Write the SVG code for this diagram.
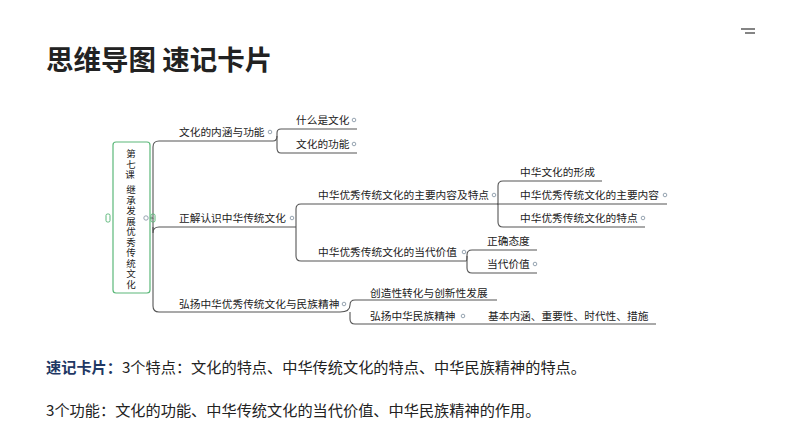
<svg xmlns="http://www.w3.org/2000/svg" width="794" height="447" viewBox="0 0 794 447">
<style>
text{font-family:"Noto Sans CJK SC","Liberation Sans",sans-serif;fill:#222}
.n{font-size:10.7px}
.l{fill:none;stroke:#555;stroke-width:1.1}
.d{fill:#fff;stroke:#8a9aa8;stroke-width:0.9}
</style>
<rect width="794" height="447" fill="#fff"/>
<line x1="741" y1="29" x2="755" y2="29" stroke="#333" stroke-width="1.2"/>
<line x1="745" y1="33" x2="755" y2="33" stroke="#333" stroke-width="1.2"/>
<text x="46" y="70" style="font-size:27.5px;font-weight:bold">思维导图 速记卡片</text>
<g id="connectors">
<path class="l" d="M150,218 H153 V147 Q153,141 159,141 H273"/>
<path class="l" d="M153,218 V233 Q153,227 159,227 H296"/>
<path class="l" d="M153,227 V306 Q153,312 159,312 H340"/>
<path class="l" d="M273,141 Q277,141 277,136 V133 Q277,129 281,129 H357"/>
<path class="l" d="M277,136 V148 Q277,153 281,153 H357"/>
<path class="l" d="M296,227 V209 Q296,204 301,204 H497"/>
<path class="l" d="M296,227 V256 Q296,261 301,261 H466"/>
<path class="l" d="M497,204 H498 V186 Q498,181 503,181 H602"/>
<path class="l" d="M497,204 H667"/>
<path class="l" d="M498,204 V222 Q498,227 503,227 H645"/>
<path class="l" d="M466,261 Q467,261 467,256 V255 Q467,250 472,250 H537"/>
<path class="l" d="M467,256 V268 Q467,273 472,273 H537"/>
<path class="l" d="M340,312 Q350,312 350,305 Q350,300 355,300 H497"/>
<path class="l" d="M350,312 V319 Q350,324 355,324 H656"/>
</g>
<g id="root">
<rect x="113" y="142" width="37" height="151" rx="3" fill="#fff" stroke="#5cb87a" stroke-width="1.2"/>
<rect x="106" y="214" width="4" height="8" rx="1.5" fill="none" stroke="#5cb87a"/>
<rect x="151" y="214" width="4" height="8" rx="1.5" fill="none" stroke="#5cb87a"/>
<circle class="d" cx="146" cy="218" r="2.2"/>
<text text-anchor="middle" style="font-size:9.5px">
<tspan x="131" y="157">第</tspan><tspan x="131" y="167.5">七</tspan><tspan x="131" y="178">课</tspan>
<tspan x="131" y="193">继</tspan><tspan x="131" y="203.5">承</tspan><tspan x="131" y="214">发</tspan><tspan x="131" y="224.5">展</tspan><tspan x="131" y="235">优</tspan><tspan x="131" y="245.5">秀</tspan><tspan x="131" y="256">传</tspan><tspan x="131" y="266.5">统</tspan><tspan x="131" y="277">文</tspan><tspan x="131" y="287.5">化</tspan>
</text>
</g>
<g id="n1"><text class="n" x="179" y="136">文化的内涵与功能</text><circle class="d" cx="270" cy="132" r="1.8"/></g>
<g id="n11"><text class="n" x="296" y="124">什么是文化</text><circle class="d" cx="354" cy="120" r="1.8"/></g>
<g id="n12"><text class="n" x="296" y="148">文化的功能</text><circle class="d" cx="354" cy="144" r="1.8"/></g>
<g id="n2"><text class="n" x="179" y="222">正解认识中华传统文化</text><circle class="d" cx="292" cy="218" r="1.8"/></g>
<g id="n21"><text class="n" x="318" y="199">中华优秀传统文化的主要内容及特点</text><circle class="d" cx="494" cy="195" r="1.8"/></g>
<g id="n211"><text class="n" x="520" y="176">中华文化的形成</text></g>
<g id="n212"><text class="n" x="520" y="199">中华优秀传统文化的主要内容</text><circle class="d" cx="665" cy="195" r="1.8"/></g>
<g id="n213"><text class="n" x="520" y="222">中华优秀传统文化的特点</text><circle class="d" cx="643" cy="218" r="1.8"/></g>
<g id="n22"><text class="n" x="318" y="256">中华优秀传统文化的当代价值</text><circle class="d" cx="464" cy="252" r="1.8"/></g>
<g id="n221"><text class="n" x="487" y="245">正确态度</text></g>
<g id="n222"><text class="n" x="487" y="268">当代价值</text><circle class="d" cx="535" cy="264" r="1.8"/></g>
<g id="n3"><text class="n" x="179" y="308">弘扬中华优秀传统文化与民族精神</text><circle class="d" cx="344" cy="304" r="1.8"/></g>
<g id="n31"><text class="n" x="370" y="297">创造性转化与创新性发展</text></g>
<g id="n32"><text class="n" x="370" y="320">弘扬中华民族精神</text><circle class="d" cx="463" cy="316" r="1.8"/></g>
<g id="n321"><text class="n" x="488" y="320">基本内涵、重要性、时代性、措施</text></g>
<text x="46" y="373" style="font-size:15.2px"><tspan style="font-weight:bold;fill:#1f3864">速记卡片：</tspan>3个特点：文化的特点、中华传统文化的特点、中华民族精神的特点。</text>
<text x="46" y="416" style="font-size:15.2px">3个功能：文化的功能、中华传统文化的当代价值、中华民族精神的作用。</text>
</svg>
